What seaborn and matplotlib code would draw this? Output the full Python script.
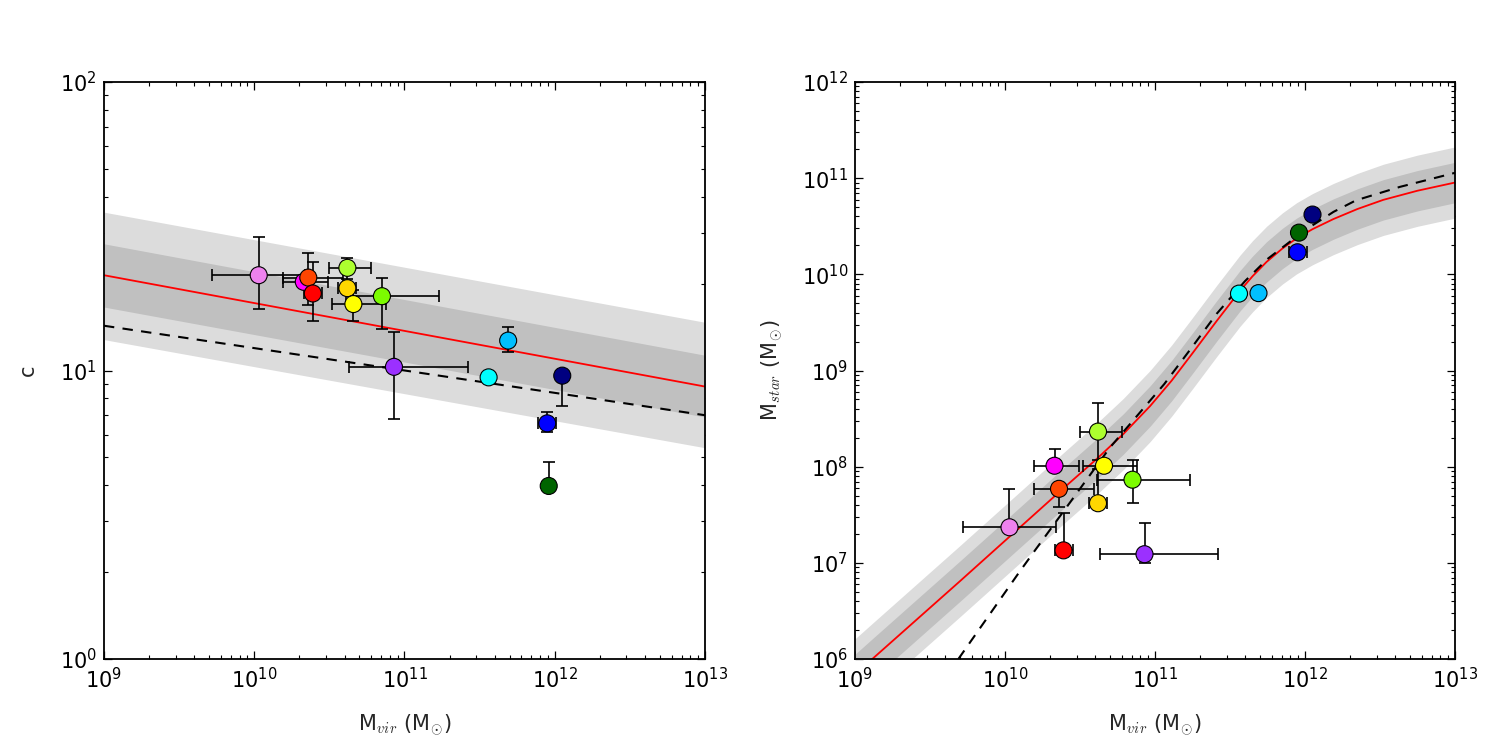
import numpy as np
import pandas as pd
import matplotlib
matplotlib.use('Agg')
import matplotlib.pyplot as plt
import seaborn as sns
from matplotlib.ticker import LogLocator, NullFormatter

# ---------------------------------------------------------
# Data
# ---------------------------------------------------------
names = ['violet', 'magenta', 'orangered', 'red', 'greenyellow', 'gold', 'yellow',
         'lawngreen', 'purple', 'cyan', 'deepskyblue', 'blue', 'darkgreen', 'navy']
colors = ['#EE82EE', '#FF00FF', '#FF4500', '#FF0000', '#ADFF2F', '#FFD700', '#FFFF00',
          '#7CFC00', '#9B30FF', '#00FFFF', '#00BFFF', '#0000FF', '#006400', '#000080']

log_mvir = [10.03, 10.33, 10.36, 10.39, 10.62, 10.62, 10.66, 10.85, 10.93, 11.56, 11.69, 11.95, 11.96, 12.05]
mvir_err_lo = [0.31, 0.14, 0.17, 0.06, 0.12, 0.06, 0.14, 0.24, 0.30, 0, 0, 0.06, 0, 0]   # dex
mvir_err_hi = [0.31, 0.16, 0.23, 0.06, 0.16, 0.06, 0.22, 0.38, 0.49, 0, 0, 0.06, 0, 0]   # dex

conc = [21.4, 20.3, 21.0, 18.5, 22.7, 19.3, 17.0, 18.1, 10.3, 9.47, 12.7, 6.56, 3.98, 9.6]
conc_hi = [29.0, 21.0, 25.5, 23.8, 24.6, 20.0, 19.0, 20.9, 13.6, 9.47, 14.2, 7.2, 4.82, 9.6]
conc_lo = [16.3, 19.6, 16.9, 14.9, 20.8, 18.6, 14.8, 13.9, 6.8, 9.47, 11.6, 6.1, 3.98, 7.55]

log_mstar = [7.37, 8.01, 7.77, 7.13, 8.365, 7.62, 8.01, 7.865, 7.09, 9.80, 9.805, 10.23, 10.434, 10.622]
mstar_err_hi = [0.40, 0.17, 0.05, 0.39, 0.30, 0.36, 0.05, 0.20, 0.32, 0, 0, 0, 0, 0]   # dex
mstar_err_lo = [0.05, 0.05, 0.19, 0.05, 0.30, 0.05, 0.05, 0.24, 0.09, 0, 0, 0, 0, 0]   # dex

# c-M relation (left panel), straight lines in log-log
cm_logm = [9.0, 13.0]
cm_red = [21.4, 8.8]
cm_1s_hi = [27.5, 11.3]
cm_1s_lo = [16.6, 6.9]
cm_2s_hi = [35.4, 14.7]
cm_2s_lo = [12.8, 5.4]
cm_dashed = [14.3, 7.0]

# abundance matching relation (right panel)
sm_logm = [9.0, 9.115, 9.7, 10.15, 10.4, 10.611, 10.789, 10.967, 11.111, 11.25, 11.411,
           11.567, 11.65, 11.744, 11.85, 11.944, 12.05, 12.189, 12.35, 12.522, 12.75, 13.0]
sm_red = [5.84, 6.0, 6.81, 7.44, 7.79, 8.08, 8.34, 8.63, 8.895, 9.18, 9.515,
          9.83, 9.98, 10.13, 10.27, 10.375, 10.47, 10.575, 10.68, 10.775, 10.87, 10.955]
sigma_in = 0.21
sigma_out = 0.37
sm_dash_logm = [9.689, 10.089, 10.2, 10.411, 10.70, 11.062, 11.25, 11.411, 11.6, 11.75,
                11.9, 12.05, 12.19, 12.34, 12.633, 12.81, 13.0]
sm_dash = [6.0, 6.89, 7.13, 7.58, 8.2, 8.86, 9.25, 9.59, 9.93, 10.16,
           10.34, 10.51, 10.65, 10.77, 10.91, 10.98, 11.056]

# ---------------------------------------------------------
# Style
# ---------------------------------------------------------
sns.set_theme(style='ticks')
plt.rcParams.update({
    'font.family': ['DejaVu Sans'],
    'mathtext.fontset': 'cm',
    'mathtext.default': 'it',
    'axes.linewidth': 1.3,
    'axes.edgecolor': 'black',
    'xtick.direction': 'in', 'ytick.direction': 'in',
    'xtick.top': True, 'ytick.right': True,
    'xtick.major.size': 6, 'ytick.major.size': 6,
    'xtick.minor.size': 3, 'ytick.minor.size': 3,
    'xtick.major.width': 0.9, 'ytick.major.width': 0.9,
    'xtick.minor.width': 0.8, 'ytick.minor.width': 0.8,
    'xtick.color': 'black', 'ytick.color': 'black',
    'xtick.labelsize': 15, 'ytick.labelsize': 15,
    'axes.labelsize': 15,
    'xtick.major.pad': 6, 'ytick.major.pad': 5,
})

df = pd.DataFrame({
    'name': names,
    'mvir': 10 ** np.array(log_mvir),
    'c': conc,
    'mstar': 10 ** np.array(log_mstar),
})
palette = dict(zip(names, colors))

lm = np.array(log_mvir)
xerr = [df['mvir'] - 10 ** (lm - np.array(mvir_err_lo)),
        10 ** (lm + np.array(mvir_err_hi)) - df['mvir']]

fig = plt.figure(figsize=(15, 7.5), dpi=100)
ax1 = fig.add_axes([0.0693, 0.1213, 0.4007, 0.7693])
ax2 = fig.add_axes([0.57, 0.1213, 0.4, 0.7693])

# ---------------------------------------------------------
# Left: concentration vs halo mass
# ---------------------------------------------------------
mx = 10 ** np.array(cm_logm)
ax1.fill_between(mx, cm_2s_lo, cm_2s_hi, color='#DCDCDC', lw=0, zorder=1)
ax1.fill_between(mx, cm_1s_lo, cm_1s_hi, color='#C0C0C0', lw=0, zorder=1)
sns.lineplot(x=mx, y=cm_red, color='red', lw=1.3, ax=ax1, zorder=2)
sns.lineplot(x=mx, y=cm_dashed, color='black', lw=1.5, ax=ax1, zorder=2).lines[-1].set_dashes((5, 4))

c = np.array(conc)
yerr1 = [c - np.array(conc_lo), np.array(conc_hi) - c]
ax1.errorbar(df['mvir'], df['c'], xerr=xerr, yerr=yerr1, fmt='none', ecolor='black',
             elinewidth=1.2, capsize=4.5, capthick=1.2, zorder=3)
sns.scatterplot(data=df, x='mvir', y='c', hue='name', palette=palette, s=150,
                edgecolor='black', linewidth=0.8, legend=False, ax=ax1, zorder=5)

ax1.set_xscale('log')
ax1.set_yscale('log')
ax1.set_xlim(1e9, 1e13)
ax1.set_ylim(1, 100)
ax1.set_xlabel(r'M$_{vir}$ (M$_{\odot}$)', labelpad=14)
ax1.set_ylabel('c', labelpad=16)

# ---------------------------------------------------------
# Right: stellar mass vs halo mass
# ---------------------------------------------------------
sx = 10 ** np.array(sm_logm)
sr = np.array(sm_red)
ax2.fill_between(sx, 10 ** (sr - sigma_out), 10 ** (sr + sigma_out), color='#DCDCDC', lw=0, zorder=1)
ax2.fill_between(sx, 10 ** (sr - sigma_in), 10 ** (sr + sigma_in), color='#C0C0C0', lw=0, zorder=1)
sns.lineplot(x=sx, y=10 ** sr, color='red', lw=1.3, ax=ax2, zorder=2)
sns.lineplot(x=10 ** np.array(sm_dash_logm), y=10 ** np.array(sm_dash), color='black',
             lw=1.5, ax=ax2, zorder=2).lines[-1].set_dashes((5, 4))

ls = np.array(log_mstar)
yerr2 = [df['mstar'] - 10 ** (ls - np.array(mstar_err_lo)),
         10 ** (ls + np.array(mstar_err_hi)) - df['mstar']]
ax2.errorbar(df['mvir'], df['mstar'], xerr=xerr, yerr=yerr2, fmt='none', ecolor='black',
             elinewidth=1.2, capsize=4.5, capthick=1.2, zorder=3)
sns.scatterplot(data=df, x='mvir', y='mstar', hue='name', palette=palette, s=150,
                edgecolor='black', linewidth=0.8, legend=False, ax=ax2, zorder=5)

ax2.set_xscale('log')
ax2.set_yscale('log')
ax2.set_xlim(1e9, 1e13)
ax2.set_ylim(1e6, 1e12)
ax2.set_xlabel(r'M$_{vir}$ (M$_{\odot}$)', labelpad=14)
ax2.set_ylabel(r'M$_{star}$ (M$_{\odot}$)', labelpad=12)

for ax in (ax1, ax2):
    ax.xaxis.set_major_locator(LogLocator(base=10, numticks=20))
    ax.yaxis.set_major_locator(LogLocator(base=10, numticks=20))
    ax.xaxis.set_minor_locator(LogLocator(base=10, subs=np.arange(2, 10), numticks=50))
    ax.yaxis.set_minor_locator(LogLocator(base=10, subs=np.arange(2, 10), numticks=50))
    ax.xaxis.set_minor_formatter(NullFormatter())
    ax.yaxis.set_minor_formatter(NullFormatter())
    ax.tick_params(which='both', top=True, right=True)
    for s in ax.spines.values():
        s.set_visible(True)
        s.set_zorder(10)

fig.savefig('out.png', dpi=100)
